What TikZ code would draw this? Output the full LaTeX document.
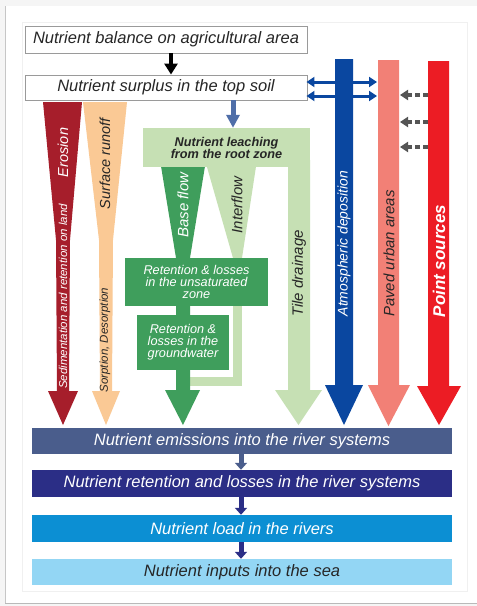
\documentclass[tikz,border=0pt]{standalone}
\usepackage{fontspec}
\setmainfont{Liberation Sans}
\usetikzlibrary{arrows.meta}
\definecolor{eros}{HTML}{A61E2B}
\definecolor{runoff}{HTML}{FAC995}
\definecolor{lgreen}{HTML}{C6E0B4}
\definecolor{dgreen}{HTML}{3F9E5C}
\definecolor{atmo}{HTML}{0A47A0}
\definecolor{paved}{HTML}{F28076}
\definecolor{point}{HTML}{EC1C24}
\definecolor{steel}{HTML}{4F6EA8}
\definecolor{emis}{HTML}{4A5D8C}
\definecolor{riv}{HTML}{2B2E86}
\definecolor{load}{HTML}{0C8FD3}
\definecolor{sea}{HTML}{93D6F4}
\definecolor{txt}{HTML}{262626}
\definecolor{boxgray}{HTML}{9A9A9A}
\definecolor{dashgray}{HTML}{555555}
\begin{document}
\begin{tikzpicture}[x=1pt,y=-1pt,
  lab/.style={font=\itshape\fontsize{16.5}{19}\selectfont, inner sep=0pt},
  topbox/.style={lab, draw=boxgray, line width=0.9pt, fill=white, minimum width=282pt, text=txt},
  botbox/.style={lab, minimum width=420pt, text=white},
  gbox/.style={fill=dgreen, inner sep=0pt, text=white, align=center, font=\itshape\fontsize{12.7}{12}\selectfont},
  rot/.style={rotate=90, inner sep=0pt, font=\itshape\fontsize{#1}{#1}\selectfont},
  smallarr/.style={line width=5pt, -{Triangle[width=12pt,length=7pt]}},
  dblarr/.style={atmo, line width=3pt, {Triangle[width=10pt,length=8pt]}-{Triangle[width=10pt,length=8pt]}},
  dasharr/.style={dashgray, line width=3.5pt, dash pattern=on 5pt off 3pt, -{Triangle[width=10pt,length=8pt]}}
]
\useasboundingbox (0,0) rectangle (477,606);
% card background
\fill[gray!8] (0,0) rectangle (477,606);
\fill[white] (5,6) rectangle (477,603);
\draw[gray!45, line width=1pt] (5.5,6) -- (5.5,603);
\draw[gray!55, line width=1.2pt] (5,603.5) -- (477,603.5);
\draw[gray!12, line width=0.8pt] (22,22) rectangle (467,591);

% erosion and surface runoff
\fill[eros] (43,102) -- (82,102) -- (70,240) -- (69,391) -- (78,391) -- (63,425) -- (48,391) -- (57,391) -- (56,240) -- cycle;
\fill[runoff] (83,102) -- (127,102) -- (113,240) -- (112,391) -- (120,391) -- (106,425) -- (92,391) -- (100,391) -- (99,240) -- cycle;

% light green flows
\fill[lgreen] (205,160) -- (257,160) -- (242,258) -- (233,258) -- cycle;
\fill[lgreen] (233,250) rectangle (242,386);
\fill[lgreen] (185,377) rectangle (242,386);
\fill[lgreen] (288,160) -- (310,160) -- (310,390) -- (322,390) -- (298.5,425) -- (275,390) -- (288,390) -- cycle;

% dark green base flow
\fill[dgreen] (160,160) -- (206,160) -- (190,258) -- (190,390) -- (200,390) -- (183,425) -- (165,390) -- (176,390) -- (176,258) -- cycle;

% right columns
\fill[atmo] (335,59) -- (353,59) -- (353,385) -- (363,385) -- (344,425) -- (325,385) -- (335,385) -- cycle;
\fill[paved] (378,60) -- (399,60) -- (399,385) -- (410,385) -- (388.5,426) -- (368,385) -- (378,385) -- cycle;
\fill[point] (428,61) -- (449,61) -- (449,386) -- (461,386) -- (439,425) -- (417,386) -- (428,386) -- cycle;

% top boxes
\node[topbox, minimum height=27pt] (bal) at (166,39.5) {Nutrient balance on agricultural area};
\node[topbox, minimum height=25pt] (sur) at (166,87.5) {Nutrient surplus in the top soil};
\coordinate (cb) at (171,0);
\draw[line width=4.5pt, -{Triangle[width=13pt,length=11pt]}] (bal.south -| cb) -- (sur.north -| cb);

% leaching box
\node[fill=lgreen, minimum width=167pt, minimum height=39pt, inner sep=0pt, align=center, text=txt,
      font=\bfseries\itshape\fontsize{12.7}{12}\selectfont] (leach) at (226.5,147.5) {Nutrient leaching\\from the root zone};
\coordinate (cs) at (233,0);
\draw[steel, line width=5pt, -{Triangle[width=13pt,length=13pt]}] (sur.south -| cs) -- (leach.north -| cs);

% green retention boxes
\node[gbox, minimum width=143pt, minimum height=48pt] (unsat) at (196.5,282) {Retention \& losses\\in the unsaturated\\zone};
\node[gbox, minimum width=92pt, minimum height=55pt] (gw) at (183,342.5) {Retention \&\\losses in the\\groundwater};

% double arrows and dashed arrows
\coordinate (d1) at (377,82);
\coordinate (d2) at (377,96);
\draw[dblarr, shorten <=-1pt] (sur.east |- d1) -- (d1);
\draw[dblarr, shorten <=-1pt] (sur.east |- d2) -- (d2);
\coordinate (p1) at (428,95);
\coordinate (p2) at (428,122);
\coordinate (p3) at (428,147);
\coordinate (q1) at (400,95);
\coordinate (q2) at (400,122);
\coordinate (q3) at (400,147);
\draw[dasharr] (p1) -- (q1);
\draw[dasharr] (p2) -- (q2);
\draw[dasharr] (p3) -- (q3);

% rotated labels
\node[rot=14.5, text=white] (l1) at (63,152.5) {Erosion};
\node[rot=11.5, text=white] (l2) at (63,296.5) {Sedimentation and retention on land};
\node[rot=14.5, text=txt] (l3) at (105,164) {Surface runoff};
\node[rot=11.5, text=txt] (l4) at (105,340) {Sorption, Desorption};
\node[rot=15, text=white] (l5) at (183,205) {Base flow};
\node[rot=15, text=txt] (l6) at (237,205) {Interflow};
\node[rot=15, text=txt] (l7) at (299,273.5) {Tile drainage};
\node[rot=14, text=white] (l8) at (344,243.5) {Atmospheric deposition};
\node[rot=15, text=txt] (l9) at (389,253.5) {Paved urban areas};
\node[rot=17, text=white, font=\bfseries\itshape\fontsize{17}{17}\selectfont] (l10) at (439,261) {Point sources};

% bottom boxes
\node[botbox, fill=emis, minimum height=26pt] (em) at (242,441) {Nutrient emissions into the river systems};
\node[botbox, fill=riv, minimum height=27pt] (ret) at (242,483.5) {Nutrient retention and losses in the river systems};
\node[botbox, fill=load, minimum height=27pt] (ld) at (242,528.5) {Nutrient load in the rivers};
\node[botbox, fill=sea, minimum height=26pt, text=txt] (se) at (242,572) {Nutrient inputs into the sea};
\coordinate (cm) at (241,0);
\draw[smallarr, emis] (em.south -| cm) -- (ret.north -| cm);
\draw[smallarr, riv] (ret.south -| cm) -- (ld.north -| cm);
\draw[smallarr, riv] (ld.south -| cm) -- (se.north -| cm);
\end{tikzpicture}
\end{document}
